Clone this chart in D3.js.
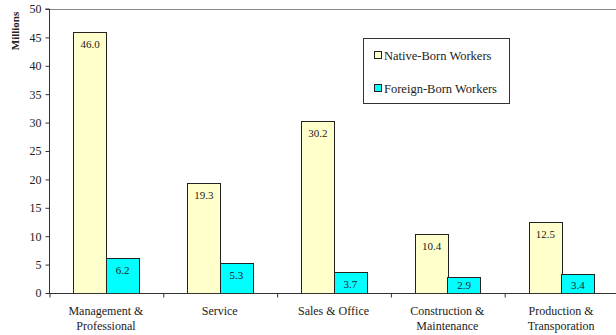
<!DOCTYPE html>
<html>
<head>
<meta charset="utf-8">
<script src="https://cdn.jsdelivr.net/npm/d3@7"></script>
<style>
  html, body { margin: 0; padding: 0; background: #fff; }
  svg text { font-family: "Liberation Serif", "Times New Roman", serif; }
</style>
</head>
<body>
<svg id="chart" width="616" height="335"></svg>
<script>
// Employment by occupation, millions of workers
const categories = [
  ["Management &", "Professional"],
  ["Service"],
  ["Sales & Office"],
  ["Construction &", "Maintenance"],
  ["Production &", "Transporation"]
];
const nativeBorn  = [46.0, 19.3, 30.2, 10.4, 12.5];
const foreignBorn = [6.2, 5.3, 3.7, 2.9, 3.4];
const seriesNames = ["Native-Born Workers", "Foreign-Born Workers"];
const seriesColors = ["#FFFFCC", "#00FFFF"];
const yTicks = [0, 5, 10, 15, 20, 25, 30, 35, 40, 45, 50];

const svg = d3.select("#chart");
const plotL = 49, plotR = 618, plotT = 9, plotB = 293;

const x0 = d3.scaleBand().domain(d3.range(categories.length)).range([plotL, plotR]).paddingInner(0).paddingOuter(0);
const bandW = x0.bandwidth();
const barW = 32.5;
const y = d3.scaleLinear().domain([0, 50]).range([plotB, plotT]);

// plot-area top border
svg.append("line").attr("x1", plotL).attr("x2", plotR).attr("y1", plotT + 0.5).attr("y2", plotT + 0.5)
  .attr("stroke", "#888").attr("stroke-width", 1);

// bars with value labels just inside the top
const series = [nativeBorn, foreignBorn];
series.forEach((vals, si) => {
  const g = svg.append("g");
  vals.forEach((v, i) => {
    const cx = x0(i) + bandW / 2;
    const bx = si === 0 ? cx - barW : cx;
    g.append("rect")
      .attr("x", Math.round(bx) + 0.5)
      .attr("y", Math.round(y(v)) + 0.5)
      .attr("width", Math.round(barW))
      .attr("height", Math.round(y(0) - y(v)))
      .attr("fill", seriesColors[si])
      .attr("stroke", "#222").attr("stroke-width", 1);
    g.append("text")
      .attr("x", bx + barW / 2 + 0.5)
      .attr("y", Math.min(y(v) + 16, plotB - 4))
      .attr("text-anchor", "middle")
      .attr("font-size", 11)
      .attr("fill", "#222")
      .text(v.toFixed(1));
  });
});

// y axis
const yAxis = d3.axisLeft(y).tickValues(yTicks).tickSize(4).tickPadding(4).tickFormat(d3.format("d"));
const ya = svg.append("g").attr("transform", `translate(${plotL + 0.5},0)`).call(yAxis)
  .attr("font-family", null).attr("font-size", null);
ya.select(".domain").attr("stroke", "#333").attr("d", `M-4,${plotT}H0V${plotB}`);
ya.selectAll(".tick line").attr("stroke", "#333");
ya.selectAll(".tick text").attr("font-size", 12).attr("fill", "#222");

// x axis with ticks at category boundaries
const xb = d3.scaleLinear().domain([0, categories.length]).range([plotL, plotR]);
const xa = svg.append("g").attr("transform", `translate(0,${plotB + 0.5})`)
  .call(d3.axisBottom(xb).ticks(categories.length).tickSize(4).tickFormat(""));
xa.select(".domain").attr("stroke", "#333").attr("d", `M${plotL},0H${plotR}`);
xa.selectAll(".tick line").attr("stroke", "#333").attr("transform", "translate(0.5,0)");

// category labels
categories.forEach((lines, i) => {
  const t = svg.append("text")
    .attr("x", x0(i) + bandW / 2)
    .attr("y", 315)
    .attr("text-anchor", "middle")
    .attr("font-size", 12)
    .attr("fill", "#222");
  lines.forEach((ln, j) => {
    t.append("tspan").attr("x", x0(i) + bandW / 2).attr("dy", j === 0 ? 0 : 15).text(ln);
  });
});

// y axis title
svg.append("text")
  .attr("transform", "translate(19,31) rotate(-90)")
  .attr("text-anchor", "middle")
  .attr("font-size", 11)
  .attr("font-weight", "bold")
  .attr("fill", "#222")
  .text("Millions");

// legend
const lg = svg.append("g");
lg.append("rect").attr("x", 363.5).attr("y", 38.5).attr("width", 146).attr("height", 65)
  .attr("fill", "#fff").attr("stroke", "#333");
seriesNames.forEach((name, i) => {
  const cy = 55 + i * 33;
  lg.append("rect").attr("x", 374.5).attr("y", cy - 3.5).attr("width", 7).attr("height", 7)
    .attr("fill", seriesColors[i]).attr("stroke", "#222");
  lg.append("text").attr("x", 384).attr("y", cy + 4.5)
    .attr("font-size", 12.5).attr("fill", "#222").text(name);
});
</script>
</body>
</html>
